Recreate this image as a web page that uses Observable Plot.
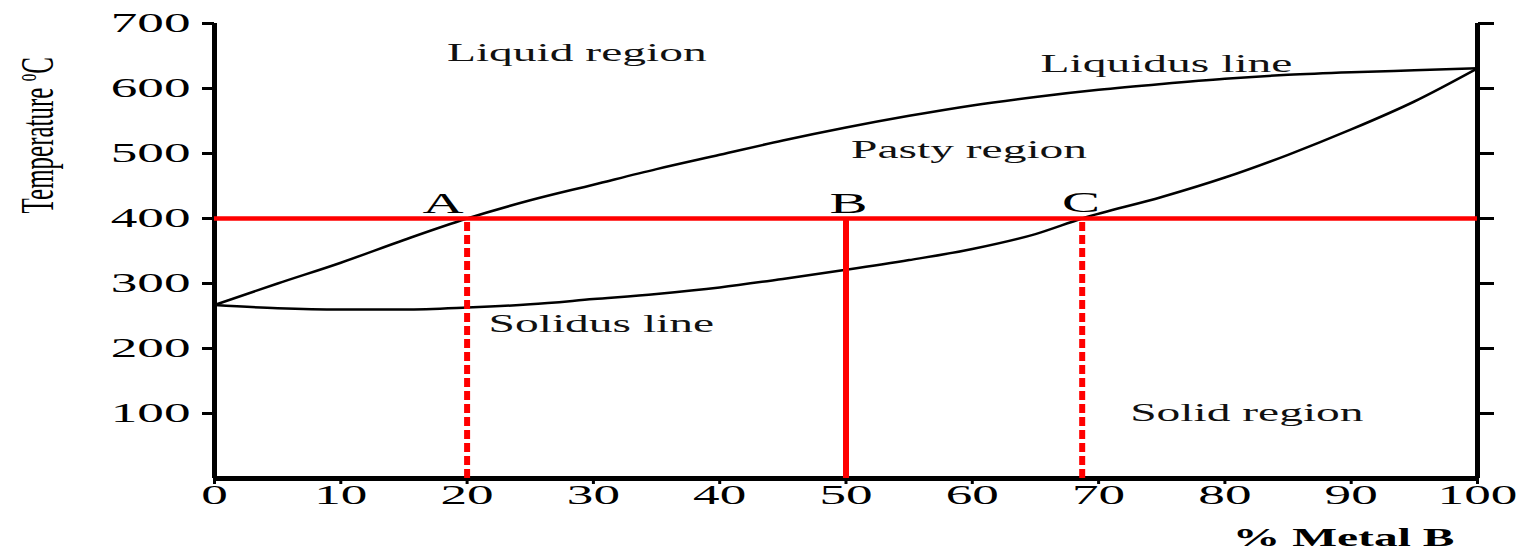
<!DOCTYPE html>
<html>
<head>
<meta charset="utf-8">
<script src="https://cdn.jsdelivr.net/npm/d3@7"></script>
<script src="https://cdn.jsdelivr.net/npm/@observablehq/plot@0.6"></script>
<style>
  html, body { margin: 0; padding: 0; background: #fff; }
</style>
</head>
<body>
<div id="chart"></div>
<script>
// ---- data ----
const xDomain = [0, 100];
const yDomain = [0, 700];
const xTicks = [0, 10, 20, 30, 40, 50, 60, 70, 80, 90, 100];
const yTicks = [100, 200, 300, 400, 500, 600, 700];

const liquidusPct  = [0, 5, 10, 15, 20, 25, 30, 35, 40, 45, 50, 55, 60, 65, 70, 75, 80, 85, 90, 95, 100];
const liquidusTemp = [267, 300, 332, 367, 400, 428, 452, 476, 498, 520, 540, 558, 574, 587, 598, 607, 615, 621, 625, 628, 631];

const solidusPct  = [0, 5, 10, 15, 20, 25, 30, 35, 40, 45, 50, 55, 60, 65, 68.7, 75, 80, 85, 90, 95, 100];
const solidusTemp = [267, 262, 260, 260, 263, 268, 276, 284, 294, 307, 321, 336, 353, 376, 400, 433, 463, 498, 537, 580, 631];

const isoTemp = 400;
const dashedPct = [20, 68.7];   // A and C
const solidPct = [50];          // B
const pointLabels = ["A", "B", "C"];
const pointLabelPct = [18.1, 50.2, 68.6];
const pointLabelTemp = [423, 423, 425];

const regionLabels = ["Liquid region", "Liquidus line", "Pasty region", "Solidus line", "Solid region"];
const regionPct  = [18.4, 65.4, 50.4, 21.7, 72.5];
const regionTemp = [655, 638, 505, 238, 101];

const yLabel = "Temperature °C";
const xLabel = "% Metal B";

// ---- tables ----
const liquidus = liquidusPct.map((p, i) => ({p, t: liquidusTemp[i]}));
const solidus = solidusPct.map((p, i) => ({p, t: solidusTemp[i]}));
const points = pointLabels.map((s, i) => ({s, p: pointLabelPct[i], t: pointLabelTemp[i]}));
const regions = regionLabels.map((s, i) => ({s, p: regionPct[i], t: regionTemp[i]}));

const FONT = "Liberation Serif, Times New Roman, serif";

const chart = Plot.plot({
  width: 1536,
  height: 550,
  marginLeft: 214,
  marginRight: 59,
  marginTop: 23,
  marginBottom: 72,
  style: {fontFamily: FONT, color: "#000", background: "#fff", overflow: "visible"},
  x: {domain: xDomain},
  y: {domain: yDomain},
  marks: [
    Plot.axisY({ticks: yTicks, tickSize: 12, tickPadding: 12, fontSize: 28, strokeWidth: 3, label: null}),
    Plot.axisY({anchor: "right", ticks: yTicks, tickSize: 16, tickFormat: () => "", strokeWidth: 3, label: null}),
    Plot.axisX({ticks: xTicks, tickSize: 6, tickPadding: 0, fontSize: 28, strokeWidth: 3, label: null}),
    // frame lines (left, right, bottom)
    Plot.ruleX([xDomain[0], xDomain[1]], {y1: yDomain[0], y2: yDomain[1], stroke: "#000", strokeWidth: 5}),
    Plot.ruleY([yDomain[0]], {x1: xDomain[0], x2: xDomain[1], stroke: "#000", strokeWidth: 5}),
    // curves
    Plot.line(liquidus, {x: "p", y: "t", curve: "monotone-x", stroke: "#000", strokeWidth: 2.5}),
    Plot.line(solidus, {x: "p", y: "t", curve: "monotone-x", stroke: "#000", strokeWidth: 2.5}),
    // red construction lines
    Plot.ruleX(dashedPct, {y1: yDomain[0], y2: isoTemp, stroke: "#ff0000", strokeWidth: 6, strokeDasharray: "9,4"}),
    Plot.ruleX(solidPct, {y1: yDomain[0], y2: isoTemp, stroke: "#ff0000", strokeWidth: 6}),
    Plot.ruleY([isoTemp], {x1: xDomain[0], x2: xDomain[1], stroke: "#ff0000", strokeWidth: 4.5}),
    // labels
    Plot.text(points, {x: "p", y: "t", text: "s", fontSize: 30, fill: "#000", lineAnchor: "middle"}),
    Plot.text(regions, {x: "p", y: "t", text: "s", fontSize: 25, fill: "#111", textAnchor: "start", lineAnchor: "middle"}),
    Plot.text([yLabel], {x: -13.4, y: 528, text: d => d, rotate: -90, fontSize: 25, fill: "#000", lineAnchor: "middle"}),
    Plot.text([xLabel], {x: 89.4, y: -92, text: d => d, fontSize: 25, fontWeight: "bold", fill: "#000", lineAnchor: "middle"})
  ]
});

document.getElementById("chart").appendChild(chart);

// Horizontally stretched lettering, as in the reference
const S = 1.9;
chart.querySelectorAll("text").forEach(t => {
  const tr = t.getAttribute("transform") || "";
  const rot = /rotate/.test(tr);
  if (rot) {
    t.setAttribute("transform", tr + ` scale(1,${S})`);
    t.setAttribute("y", (0.32 / S).toFixed(3) + "em");
  } else {
    t.setAttribute("transform", tr + ` scale(${S},1)`);
  }
  // superscript "o" for the degree mark in the y label
  if (t.textContent === yLabel) {
    t.textContent = "";
    const ns = "http://www.w3.org/2000/svg";
    const a = document.createElementNS(ns, "tspan"); a.textContent = "Temperature ";
    const b = document.createElementNS(ns, "tspan"); b.textContent = "o"; b.setAttribute("font-size", "15"); b.setAttribute("dy", "-9");
    const c = document.createElementNS(ns, "tspan"); c.textContent = "C"; c.setAttribute("dy", "9");
    t.append(a, b, c);
  }
});
</script>
</body>
</html>
